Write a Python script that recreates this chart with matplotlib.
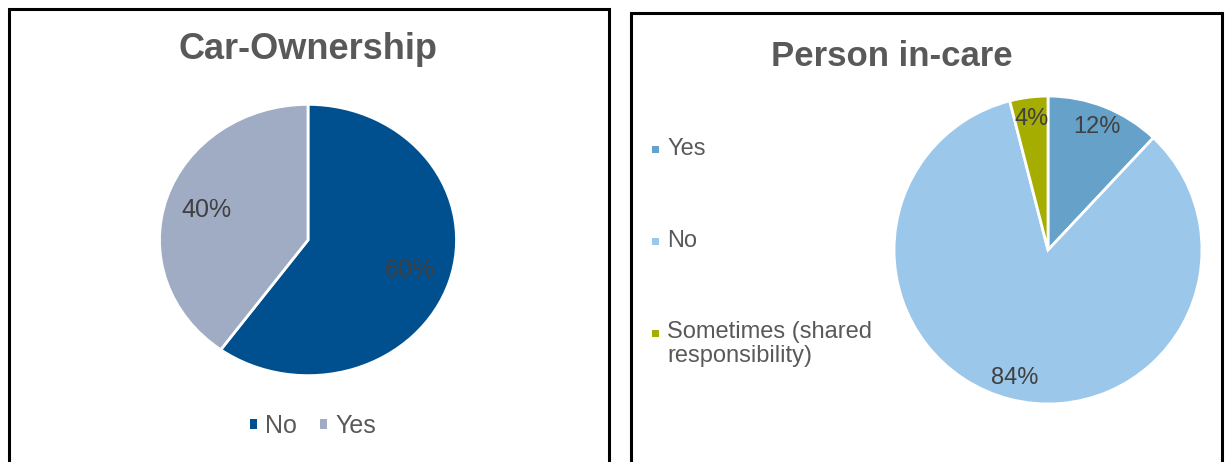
import matplotlib.pyplot as plt
from matplotlib.patches import Rectangle

plt.rcParams['font.family'] = ['Liberation Sans', 'DejaVu Sans']

W, H = 1227, 462

# Car ownership
car_labels = ['No', 'Yes']
car_values = [60, 40]
car_colors = ['#00508F', '#A0ABC4']

# Person in-care
care_labels = ['Yes', 'No', 'Sometimes (shared\nresponsibility)']
care_values = [12, 84, 4]
care_colors = ['#65A1C9', '#9BC7EA', '#A5AE00']

title_col = '#595959'
label_col = '#404040'


def fx(x):
    return x / W


def fy(y):
    return 1 - y / H


def axes_px(fig, cx, cy, rx, ry):
    # axes placed by pixel centre and radii (top-left origin)
    return fig.add_axes([fx(cx - rx), fy(cy + ry), 2 * rx / W, 2 * ry / H])


fig = plt.figure(figsize=(W / 100, H / 100), dpi=100)

# panel borders (bottom edge runs off the picture)
fig.patches.append(Rectangle((fx(8.5), fy(480)), fx(608.5) - fx(8.5), fy(8.5) - fy(480),
                             transform=fig.transFigure, fill=False, ec='black', lw=2.2))
fig.patches.append(Rectangle((fx(630.5), fy(480)), fx(1221.5) - fx(630.5), fy(13) - fy(480),
                             transform=fig.transFigure, fill=False, ec='black', lw=2.2))

# titles
fig.text(fx(308), fy(59), 'Car-Ownership', ha='center', va='baseline',
         fontsize=26, fontweight='bold', color=title_col)
fig.text(fx(892), fy(66), 'Person in-care', ha='center', va='baseline',
         fontsize=25, fontweight='bold', color=title_col)

# left pie
ax1 = axes_px(fig, 308, 240, 150, 137)
wedges1, _, autos1 = ax1.pie(car_values, colors=car_colors, startangle=90, counterclock=False,
                             autopct='%d%%', pctdistance=0.72,
                             wedgeprops=dict(edgecolor='white', linewidth=2),
                             textprops=dict(fontsize=18, color=label_col))
ax1.set_aspect('auto')
ax1.set_xlim(-1.01, 1.01)
ax1.set_ylim(-1.01, 1.01)

leg = ax1.legend(wedges1, car_labels, loc='center', bbox_to_anchor=(fx(313), fy(426)),
                 bbox_transform=fig.transFigure, ncol=2, frameon=False,
                 fontsize=18, handlelength=0.28, handleheight=0.28,
                 handletextpad=0.35, columnspacing=0.9, labelcolor=title_col)
for h in leg.legend_handles:
    h.set_edgecolor('none')

# right pie
ax2 = axes_px(fig, 1048, 250, 155.5, 155.5)
wedges2, _, autos2 = ax2.pie(care_values, colors=care_colors, startangle=90, counterclock=False,
                             autopct='%d%%', pctdistance=0.86,
                             wedgeprops=dict(edgecolor='white', linewidth=2),
                             textprops=dict(fontsize=17, color=label_col))
ax2.set_xlim(-1.01, 1.01)
ax2.set_ylim(-1.01, 1.01)

# right legend, one entry per slice, stacked down the left side
leg_y = [149, 241, 333]
for lab, col, y in zip(care_labels, care_colors, leg_y):
    fig.patches.append(Rectangle((fx(652), fy(y + 3.5)), 7 / W, 7 / H,
                                 transform=fig.transFigure, fc=col, ec='none'))
    if '\n' in lab:
        fig.text(fx(667), fy(y - 12), lab, ha='left', va='top',
                 fontsize=17, color=title_col, linespacing=1.1)
    else:
        fig.text(fx(667), fy(y), lab, ha='left', va='center',
                 fontsize=17, color=title_col)

fig.savefig('out.png', dpi=100)
